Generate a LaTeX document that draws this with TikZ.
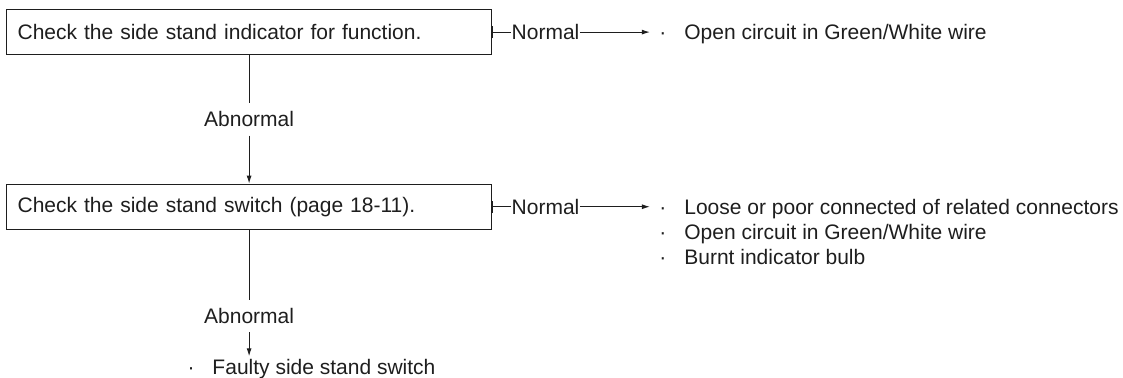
\documentclass[tikz,border=0pt]{standalone}
\usepackage{fontspec}
\setmainfont{Liberation Sans}
\usepackage{tikz}
\usetikzlibrary{arrows.meta, positioning}
\definecolor{manualink}{RGB}{30, 30, 30}
\newcommand{\causeitem}[1]{\makebox[12.5pt][l]{\textperiodcentered}#1}

\begin{document}
\begin{tikzpicture}[font=\fontsize{10.5}{12.5}\selectfont, color=manualink,
    line width=0.5pt,
    checkbox/.style={draw, line width=0.6pt, text width=231.5pt, align=left,
                     inner xsep=5.5pt, minimum height=22.5pt},
    verdict/.style={inner xsep=0pt, inner ysep=4pt},
    cause/.style={inner xsep=4.5pt, inner ysep=1pt},
    flow/.style={-{Latex[length=4pt, width=2.5pt]}}]
    \useasboundingbox (0,0) rectangle (561.5pt,-188.5pt);
    % checks down the left
    \node[checkbox, anchor=north west] (indicator) at (3pt,-4.5pt)
      {Check the side stand indicator for function.};
    \node[verdict, below=24pt of indicator] (abn1) {Abnormal};
    \node[checkbox, below=24pt of abn1] (switch)
      {Check the side stand switch (page 18-11).};
    \node[verdict, below=35pt of switch] (abn2) {Abnormal};
    \node[cause, anchor=base west] (faulty) at (89pt,-187pt)
      {\causeitem{Faulty side stand switch}};
    % normal branches
    \node[verdict, right=9.5pt of indicator] (nor1) {Normal};
    \node[cause, base right=35pt of nor1] (open1)
      {\causeitem{Open circuit in Green/White wire}};
    \node[verdict, right=9.5pt of switch] (nor2) {Normal};
    \node[cause, base right=35pt of nor2] (loose)
      {\causeitem{Loose or poor connected of related connectors}};
    \node[cause, anchor=base west] (open2) at ([yshift=-12.5pt]loose.base west)
      {\causeitem{Open circuit in Green/White wire}};
    \node[cause, anchor=base west] (bulb) at ([yshift=-12.5pt]open2.base west)
      {\causeitem{Burnt indicator bulb}};
    % connectors
    \draw (indicator) -- (abn1);
    \draw[flow] (abn1) -- (switch);
    \draw (switch) -- (abn2);
    \draw[flow] (abn2) -- (abn2.south |- faulty.north);
    \draw[{Bar[width=6pt]}-] (indicator.east) -- (nor1.west);
    \draw[flow] (nor1.east) -- (nor1.east -| open1.west);
    \draw[{Bar[width=6pt]}-] (switch.east) -- (nor2.west);
    \draw[flow] (nor2.east) -- (nor2.east -| loose.west);
  \end{tikzpicture}
\end{document}
